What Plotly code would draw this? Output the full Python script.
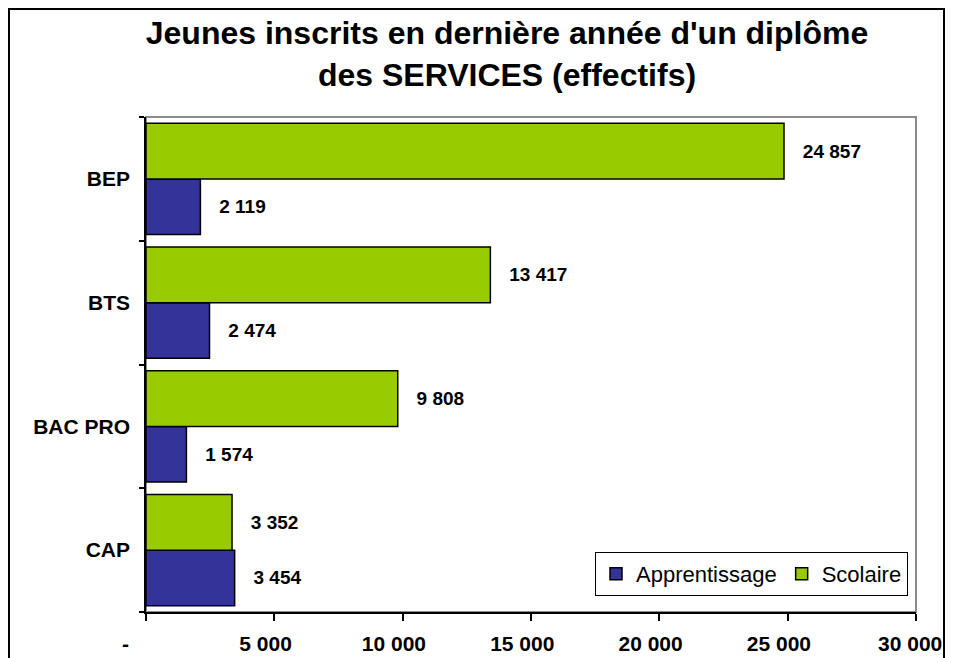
import plotly.graph_objects as go

categories = ["CAP", "BAC PRO", "BTS", "BEP"]
apprentissage = [3454, 1574, 2474, 2119]
scolaire = [3352, 9808, 13417, 24857]
x_tickvals = [0, 5000, 10000, 15000, 20000, 25000, 30000]
x_ticklabels = ["-", "5 000", "10 000", "15 000", "20 000", "25 000", "30 000"]

NB = "\u00a0"
x_ticktext = ([x_ticklabels[0] + NB * 7]
              + [t + NB * 3 for t in x_ticklabels[1:-1]]
              + [x_ticklabels[-1] + NB * 2])

def fmt(v):
    return NB * 3 + f"{v:,}".replace(",", " ")

# page offset of the figure (browser body margin)
OFF = 8
W, H = 953 - OFF, 658 - OFF
# plot area in page pixels: x 146..916, y 117..612
PX0, PX1, PY0, PY1 = 146, 916, 117, 612
ml, mr = PX0 - OFF, W - (PX1 - OFF)
mt, mb = PY0 - OFF, H - (PY1 - OFF)
pw, ph = PX1 - PX0, PY1 - PY0

def px_x(p):  # page pixel -> paper x
    return (p - PX0) / pw

def px_y(p):  # page pixel -> paper y
    return (PY1 - p) / ph

label_font = dict(family="Liberation Sans", size=19, color="black", weight="bold")

fig = go.Figure()
fig.add_trace(go.Bar(
    name="Apprentissage", y=categories, x=apprentissage, orientation="h",
    marker=dict(color="#333399", line=dict(color="black", width=1.5)),
    text=[fmt(v) for v in apprentissage], textposition="outside",
    constraintext="none", cliponaxis=False, textfont=label_font,
))
fig.add_trace(go.Bar(
    name="Scolaire", y=categories, x=scolaire, orientation="h",
    marker=dict(color="#99CC00", line=dict(color="black", width=1.5)),
    text=[fmt(v) for v in scolaire], textposition="outside",
    constraintext="none", cliponaxis=False, textfont=label_font,
))

fig.update_layout(
    width=W, height=H,
    margin=dict(l=ml, r=mr, t=mt, b=mb, autoexpand=False),
    paper_bgcolor="white", plot_bgcolor="white",
    barmode="group", bargap=0.1, bargroupgap=0,
    font=dict(family="Liberation Sans", color="black"),
    title=dict(
        text="<b>Jeunes inscrits en dernière année d'un diplôme<br>des SERVICES (effectifs)</b>",
        x=px_x(507), xref="paper", xanchor="center",
        y=1 - 36 / H, yanchor="top", automargin=False,
        font=dict(family="Liberation Sans", size=32, color="black"),
    ),
    legend=dict(
        orientation="h", x=px_x(908), xanchor="right", y=px_y(596), yanchor="bottom",
        xref="paper", yref="paper",
        bordercolor="black", borderwidth=1, bgcolor="white",
        font=dict(family="Liberation Sans", size=22, color="black"),
        traceorder="normal",
    ),
    showlegend=True,
    xaxis=dict(
        range=[0, 30000], tickvals=x_tickvals, ticktext=x_ticktext,
        showgrid=False, zeroline=False, automargin=False,
        showline=True, linecolor="black", linewidth=1.5,
        ticks="outside", ticklen=7, tickcolor="black", tickwidth=1.5,
        ticklabelstandoff=5, ticklabeloverflow="allow",
        tickfont=dict(family="Liberation Sans", size=21, color="black", weight="bold"),
    ),
    yaxis=dict(
        categoryorder="array", categoryarray=categories,
        showgrid=False, zeroline=False, automargin=False,
        showline=True, linecolor="black", linewidth=1.5,
        ticks="outside", ticklen=5, tickcolor="black", tickwidth=1.5,
        tickson="boundaries", ticklabelstandoff=10,
        tickfont=dict(family="Liberation Sans", size=21, color="black", weight="bold"),
    ),
    shapes=[
        dict(type="rect", xref="paper", yref="paper", x0=0, x1=1, y0=0, y1=1,
             line=dict(color="#8c8c8c", width=2), layer="below"),
        dict(type="rect", xref="paper", yref="paper",
             x0=px_x(9), x1=px_x(944), y0=px_y(720), y1=px_y(9),
             line=dict(color="black", width=2), layer="above"),
    ],
)

fig.write_html("out.html")
